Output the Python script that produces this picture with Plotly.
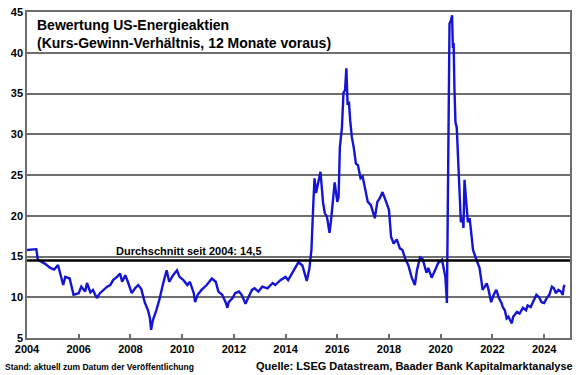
import plotly.graph_objects as go

# ---- data ----
years = [
    2004.00, 2004.20, 2004.36, 2004.42, 2004.55, 2004.70, 2004.90, 2005.05, 2005.20, 2005.28,
    2005.40, 2005.48, 2005.65, 2005.80, 2006.00, 2006.10, 2006.25, 2006.32, 2006.45, 2006.55,
    2006.70, 2006.82, 2006.95, 2007.10, 2007.22, 2007.33, 2007.48, 2007.60, 2007.68, 2007.80,
    2007.90, 2008.05, 2008.18, 2008.30, 2008.42, 2008.55, 2008.68, 2008.75, 2008.80, 2008.87,
    2009.00, 2009.12, 2009.25, 2009.40, 2009.50, 2009.65, 2009.80, 2009.90, 2010.05, 2010.20,
    2010.30, 2010.45, 2010.50, 2010.60, 2010.75, 2010.95, 2011.15, 2011.30, 2011.40, 2011.55,
    2011.68, 2011.75, 2011.80, 2011.95, 2012.05, 2012.20, 2012.30, 2012.45, 2012.55, 2012.70,
    2012.80, 2012.95, 2013.10, 2013.30, 2013.50, 2013.60, 2013.80, 2014.00, 2014.10, 2014.25,
    2014.35, 2014.50, 2014.65, 2014.82, 2014.92, 2015.00, 2015.08, 2015.12, 2015.18, 2015.25,
    2015.35, 2015.45, 2015.52, 2015.60, 2015.70, 2015.76, 2015.85, 2015.90, 2015.95, 2016.00,
    2016.05, 2016.10, 2016.18, 2016.24, 2016.30, 2016.35, 2016.40, 2016.45, 2016.50, 2016.56,
    2016.64, 2016.72, 2016.80, 2016.90, 2016.98, 2017.06, 2017.18, 2017.30, 2017.45, 2017.55,
    2017.65, 2017.75, 2017.83, 2017.90, 2018.00, 2018.08, 2018.18, 2018.30, 2018.42, 2018.52,
    2018.62, 2018.75, 2018.88, 2019.00, 2019.08, 2019.20, 2019.30, 2019.38, 2019.45, 2019.52,
    2019.65, 2019.78, 2019.90, 2020.05, 2020.10, 2020.18, 2020.24, 2020.30, 2020.34, 2020.40,
    2020.44, 2020.47, 2020.50, 2020.53, 2020.57, 2020.62, 2020.66, 2020.70, 2020.74, 2020.78,
    2020.84, 2020.88, 2020.92, 2020.97, 2021.01, 2021.05, 2021.12, 2021.18, 2021.22, 2021.25,
    2021.38, 2021.50, 2021.57, 2021.62, 2021.70, 2021.78, 2021.85, 2021.95, 2022.05, 2022.15,
    2022.25, 2022.35, 2022.40, 2022.48, 2022.55, 2022.62, 2022.68, 2022.75, 2022.80, 2022.95,
    2023.05, 2023.18, 2023.30, 2023.36, 2023.48, 2023.62, 2023.70, 2023.80, 2023.90, 2024.00,
    2024.10, 2024.20, 2024.30, 2024.38, 2024.45, 2024.55, 2024.65, 2024.72, 2024.76, 2024.80,
]
kgv = [
    15.8, 15.9, 15.9, 14.6, 14.4, 14.1, 13.6, 13.4, 13.95, 12.9,
    11.5, 12.5, 12.3, 10.3, 10.5, 11.3, 10.7, 11.75, 10.6, 10.9,
    9.9, 10.5, 10.9, 11.3, 11.5, 12.1, 12.5, 12.9, 11.9, 12.7,
    11.9, 10.5, 11.1, 11.5, 11.0, 9.4, 8.4, 7.5, 6.0, 7.2,
    8.4, 9.7, 11.5, 13.3, 11.9, 12.7, 13.3, 12.5, 12.1, 11.5,
    11.9, 10.5, 9.4, 10.3, 10.9, 11.5, 12.3, 11.9, 10.7, 10.3,
    9.4, 8.7, 9.4, 9.9, 10.5, 10.7, 10.3, 9.2, 9.9, 10.9,
    11.1, 10.7, 11.3, 11.1, 11.75, 11.5, 12.1, 12.5, 12.1, 12.9,
    13.6, 14.3, 13.9, 12.0, 13.5, 15.8, 22.0, 24.6, 22.8, 24.0,
    25.4, 21.6, 20.3, 19.9, 17.9, 19.5, 23.2, 24.1, 22.9, 21.7,
    22.3, 28.4, 30.8, 35.1, 35.4, 38.1, 33.6, 34.0, 31.7, 29.7,
    28.3, 26.4, 26.2, 24.6, 24.8, 23.5, 21.7, 21.3, 19.7, 21.7,
    22.2, 22.9, 22.3, 21.6, 20.7, 17.4, 16.6, 17.1, 16.0, 15.8,
    14.8, 13.9, 12.4, 11.5, 13.3, 14.9, 14.7, 13.7, 13.0, 13.6,
    12.4, 13.3, 14.2, 14.6, 13.7, 12.5, 9.3, 36.9, 43.6, 44.0,
    44.6, 40.6, 41.2, 35.7, 31.5, 30.8, 27.5, 24.6, 22.5, 19.2,
    19.8, 18.5, 24.4, 22.2, 20.9, 19.2, 19.7, 18.0, 16.4, 15.8,
    14.6, 13.6, 12.1, 10.9, 11.3, 11.7, 10.9, 9.4, 10.3, 10.9,
    9.9, 9.3, 8.8, 8.4, 7.4, 7.6, 7.2, 6.8, 7.6, 8.2,
    8.0, 8.7, 8.4, 9.0, 8.8, 9.7, 10.3, 10.0, 9.4, 9.3,
    9.9, 10.3, 11.3, 11.1, 10.5, 10.9, 10.7, 10.3, 11.3, 11.5,
]
average_value = 14.5
average_label = "Durchschnitt seit 2004: 14,5"
x_ticks = list(range(2004, 2025, 2))
y_ticks = list(range(5, 50, 5))
title_lines = ["Bewertung US-Energieaktien", "(Kurs-Gewinn-Verhältnis, 12 Monate voraus)"]
note_left = "Stand: aktuell zum Datum der Veröffentlichung"
note_right = "Quelle: LSEG Datastream, Baader Bank Kapitalmarktanalyse"

FONT = "Liberation Sans, Arial, sans-serif"
GRID = "#6e6e6e"

fig = go.Figure()
fig.add_trace(go.Scatter(
    x=years, y=kgv, mode="lines",
    line=dict(color="#1414d4", width=2.4),
    hoverinfo="x+y", showlegend=False,
))

fig.add_shape(type="line", xref="paper", x0=0, x1=1, yref="y",
              y0=average_value, y1=average_value,
              line=dict(color="black", width=2.5))

fig.add_annotation(
    x=2010.26, y=average_value, xref="x", yref="y",
    text=average_label, showarrow=False, xanchor="center", yanchor="bottom",
    yshift=2, font=dict(family=FONT, size=11, color="black", weight="bold"),
)

fig.add_annotation(
    x=0.015, y=0.99, xref="paper", yref="paper",
    text="<br>".join(title_lines), showarrow=False, xanchor="left", yanchor="top",
    align="left", font=dict(family=FONT, size=14, color="black", weight="bold"),
)

fig.add_annotation(
    x=-0.044, y=-0.089, xref="paper", yref="paper", text=note_left,
    showarrow=False, xanchor="left", yanchor="middle",
    font=dict(family=FONT, size=8.5, color="black", weight="bold"),
)
fig.add_annotation(
    x=1.009, y=-0.086, xref="paper", yref="paper", text=note_right,
    showarrow=False, xanchor="right", yanchor="middle",
    font=dict(family=FONT, size=11, color="black", weight="bold"),
)

fig.update_layout(
    width=580, height=375,
    margin=dict(l=27, r=10, t=12, b=37, autoexpand=False),
    paper_bgcolor="white", plot_bgcolor="white",
    font=dict(family=FONT, color="black"),
)
fig.update_xaxes(
    range=[2004, 2025], tickvals=x_ticks, ticktext=[str(v) for v in x_ticks],
    showgrid=False, zeroline=False, automargin=False,
    showline=True, linecolor=GRID, linewidth=1.5, mirror=True,
    ticks="inside", ticklen=4, tickcolor=GRID, tickwidth=1.5,
    tickfont=dict(family=FONT, size=11, color="black", weight="bold"),
)
fig.update_yaxes(
    range=[5, 45], tickvals=y_ticks,
    showgrid=True, gridcolor=GRID, gridwidth=1.5, zeroline=False, automargin=False,
    showline=True, linecolor=GRID, linewidth=1.5, mirror=True,
    ticks="", tickfont=dict(family=FONT, size=11, color="black", weight="bold"),
)

fig.write_html(
    "out.html",
    config={"displayModeBar": False},
    post_script="document.body.style.margin='0';document.body.style.overflow='hidden';",
)
